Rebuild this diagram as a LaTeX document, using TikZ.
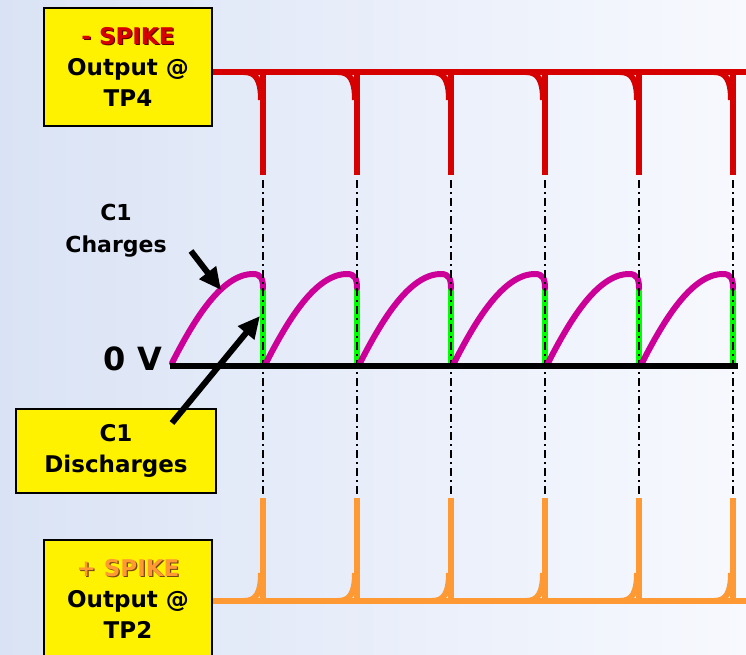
\documentclass[tikz,border=0pt]{standalone}
\usepackage{fontspec}
\setmainfont{DejaVu Sans}
\usepackage{xcolor}
\usetikzlibrary{arrows.meta, positioning}

\definecolor{bgleft}{RGB}{218,227,245}
\definecolor{bgright}{RGB}{247,249,254}
\definecolor{spikered}{RGB}{214,0,0}
\definecolor{spikeorange}{RGB}{255,153,51}
\definecolor{chargemagenta}{RGB}{204,0,153}
\definecolor{dischargegreen}{RGB}{0,255,0}

\newcommand{\shadowed}[2]{\makebox[0pt][l]{\hspace{1.3pt}\raisebox{-1.3pt}{\textcolor{#1!45!black}{#2}}}\textcolor{#1}{#2}}

\begin{document}
\begin{tikzpicture}[
      x=1pt, y=-1pt,
      every node/.style={font=\bfseries\fontsize{23}{31}\selectfont, align=center, inner sep=0pt},
      infobox/.style={draw=black, line width=2.5pt, fill=yellow, minimum width=168pt, minimum height=118pt},
      redtrace/.style={spikered, line width=6pt},
      orangetrace/.style={spikeorange, line width=6pt},
      chargetrace/.style={chargemagenta, line width=6pt, line cap=round},
      dischargetrace/.style={dischargegreen, line width=6pt},
      timemark/.style={black, line width=2pt, dash pattern=on 8pt off 4pt on 2pt off 4pt},
      pointer/.style={black, line width=6pt, -{Triangle[length=22pt, width=20pt]}}
    ]
      \useasboundingbox (0,0) rectangle (746,655);
      \shade[left color=bgleft, right color=bgright] (0,0) rectangle (746,655);

      % -SPIKE output (TP4)
      \draw[redtrace] (212,72) -- (746,72);
      \foreach \x in {263,357,...,733} {
        \draw[redtrace] (\x,72) -- (\x,175);
        \draw[redtrace] (\x-19,72) .. controls (\x-7,72) and (\x-2,80) .. (\x-2,100);
      }

      % C1 voltage
      \foreach \x in {263,357,...,733} {
        \draw[dischargetrace] (\x,286) -- (\x,365);
        \draw[chargetrace] (\x-91,363) .. controls (\x-70,322) and (\x-42,274) .. (\x-10,274)
          .. controls (\x-2,274) and (\x,279) .. (\x,288);
        \draw[timemark] (\x,180) -- (\x,500);
      }
      \draw[black, line width=5.5pt] (170,366) -- (738,366);

      % +SPIKE output (TP2)
      \draw[orangetrace] (212,601) -- (746,601);
      \foreach \x in {263,357,...,733} {
        \draw[orangetrace] (\x,601) -- (\x,498);
        \draw[orangetrace] (\x-19,601) .. controls (\x-7,601) and (\x-2,593) .. (\x-2,573);
      }

      \node[infobox] (boxTP4) at (128,67) {\shadowed{spikered}{- SPIKE}\\Output @\\TP4};
      \node[infobox] (boxTP2) at (128,599) {\shadowed{spikeorange}{+ SPIKE}\\Output @\\TP2};
      \node[infobox, minimum width=200pt, minimum height=84pt] (boxDis) at (116,451) {C1\\Discharges};
      \node[font=\bfseries\fontsize{22}{32}\selectfont] (lblCharges) at (116,231) {C1\\Charges};
      \node[font=\bfseries\fontsize{32}{36}\selectfont] (lblZero) at (133,359) {0 V};

      \coordinate (chgTail) at (191,251);
      \coordinate (chgTip) at (221,290);
      \coordinate (disTail) at (172,423);
      \coordinate (disTip) at (260,316);
      \draw[pointer] (chgTail) -- (chgTip);
      \draw[pointer] (disTail) -- (disTip);
    \end{tikzpicture}
\end{document}
